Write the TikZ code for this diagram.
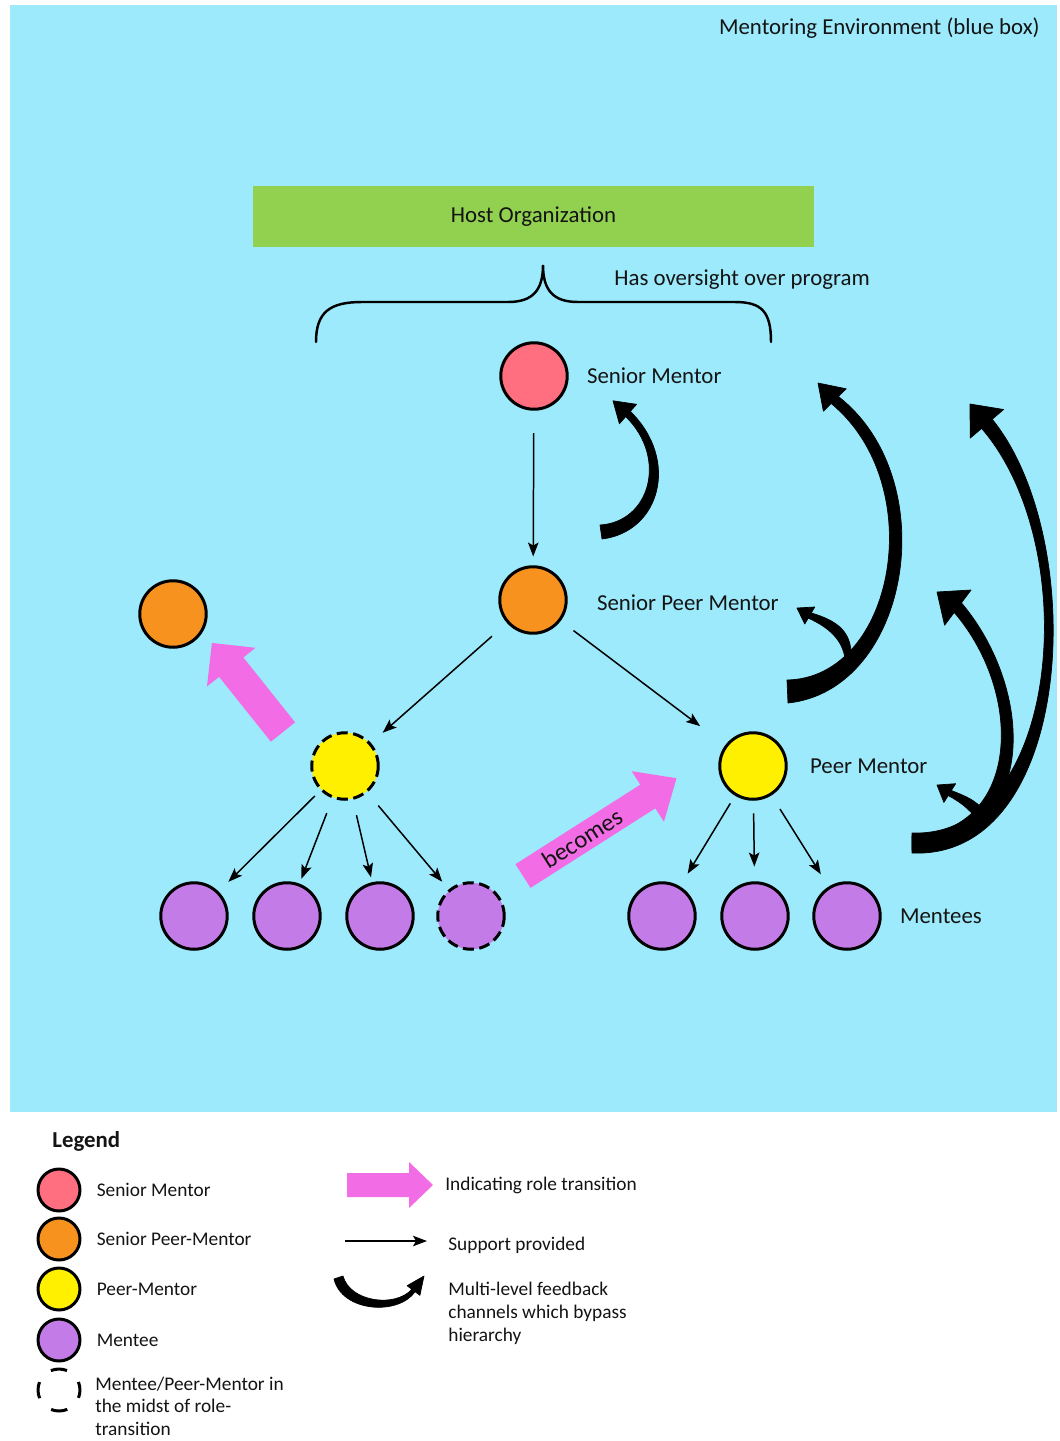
\documentclass[tikz,border=0pt]{standalone}
\usepackage{fontspec}
\setmainfont{Carlito}
\usepackage{tikz}
\usetikzlibrary{arrows.meta,positioning,calc}
\definecolor{envblue}{HTML}{9CEAFB}
\definecolor{hostgreen}{HTML}{92D050}
\definecolor{smpink}{HTML}{FF6F80}
\definecolor{spmorange}{HTML}{F7921E}
\definecolor{pmyellow}{HTML}{FFF000}
\definecolor{menteepurple}{HTML}{C37BE8}
\definecolor{rolepink}{HTML}{F26CE6}
\definecolor{txtdark}{HTML}{141414}
\tikzset{
  role/.style={circle, draw=black, line width=1.7pt, minimum size=1.33cm, inner sep=0pt},
  midst/.style={dash pattern=on 2.2mm off 1.1mm},
  support/.style={-{Stealth[length=2.8mm,width=2.1mm,inset=0.6mm]}, line width=0.85pt},
  feedback/.style={fill=black, draw=black, line width=0.4pt, line join=round},
  lbl/.style={font=\fontsize{13}{15}\selectfont, text=txtdark, inner sep=0pt},
  legtxt/.style={font=\fontsize{11}{13.1}\selectfont, text=txtdark, inner sep=0pt, align=left},
  legrole/.style={circle, draw=black, line width=1.7pt, minimum size=0.84cm, inner sep=0pt},
}

\begin{document}
\begin{tikzpicture}[x=0.02cm,y=-0.02cm]
  % page and environment box
  \fill[white] (0,0) rectangle (1060,1441);
  \useasboundingbox (0,0) rectangle (1060,1441);
  \fill[envblue] (10,5) rectangle (1057,1112);
  \node[lbl, anchor=east] (envtitle) at (1040,28) {Mentoring Environment (blue box)};

  % host organization
  \node[lbl, fill=hostgreen, minimum width=11.22cm, minimum height=1.22cm] (host) at (533.5,216.5) {Host Organization};
  \draw[line width=1.4pt, line cap=round] (316,342) .. controls (316,312) and (330,302) .. (362,302) -- (508,302)
    .. controls (533,302) and (543,290) .. (543,265) .. controls (543,290) and (553,302) .. (578,302) -- (735,302)
    .. controls (762,302) and (771,312) .. (771,342);
  \node[lbl, anchor=west] (oversight) at (614,280) {Has oversight over program};

  % roles
  \node[role, fill=smpink] (sm) at (534,376) {};
  \node[role, fill=spmorange] (spm) at (533,600) {};
  \node[role, fill=spmorange] (spmnew) at (173,614) {};
  \node[role, midst, fill=pmyellow] (pmmid) at (345,766) {};
  \node[role, fill=pmyellow] (pm) at (753,766) {};
  \node[role, fill=menteepurple] (m1) at (194,916) {};
  \node[role, fill=menteepurple] (m2) at (287,916) {};
  \node[role, fill=menteepurple] (m3) at (380,916) {};
  \node[role, midst, fill=menteepurple] (m4) at (471,916) {};
  \node[role, fill=menteepurple] (n1) at (662,916) {};
  \node[role, fill=menteepurple] (n2) at (755,916) {};
  \node[role, fill=menteepurple] (n3) at (847,916) {};

  \node[lbl, right=0.36cm of sm] (smlbl) {Senior Mentor};
  \node[lbl, right=0.58cm of spm, yshift=-0.06cm] (spmlbl) {Senior Peer Mentor};
  \node[lbl, right=0.44cm of pm] (pmlbl) {Peer Mentor};
  \node[lbl, right=0.36cm of n3] (menteeslbl) {Mentees};

  % support provided
  \draw[support, shorten <=4.5mm, shorten >=1.75mm] (sm) -- (spm);
  \draw[support, shorten <=4mm, shorten >=3.1mm] (spm) -- (pmmid);
  \draw[support, shorten <=3.2mm, shorten >=6.3mm] (spm) -- (pm);
  \draw[support, shorten <=1.55mm, shorten >=2.75mm] (pmmid) -- (m1);
  \draw[support, shorten <=3.15mm, shorten >=1.05mm] (pmmid) -- (m2);
  \draw[support, shorten <=3.15mm, shorten >=1mm] (pmmid) -- (m3);
  \draw[support, shorten <=3.4mm, shorten >=2mm] (pmmid) -- (m4);
  \draw[support, shorten <=1.8mm, shorten >=2.95mm] (pm) -- (n1);
  \draw[support, shorten <=2.55mm, shorten >=2.95mm] (pm) -- (n2);
  \draw[support, shorten <=3.2mm, shorten >=2.9mm] (pm) -- (n3);

  % role transitions
  \begin{scope}[shift={(523,876)}, rotate=32.5]
    \fill[rolepink] (0,-14) -- (148,-14) -- (148,-30) -- (182,0) -- (148,30) -- (148,14) -- (0,14) -- cycle;
    \node[lbl, font=\fontsize{14}{16}\selectfont, rotate=32.5] (becomes) at (70,0) {becomes};
  \end{scope}
  \begin{scope}[shift={(283,732)}, rotate=128.6]
    \fill[rolepink] (0,-15.5) -- (83,-15.5) -- (83,-31) -- (114,0) -- (83,31) -- (83,15.5) -- (0,15.5) -- cycle;
  \end{scope}

  % feedback channels
  \fill[feedback] (600,525) -- (602,539) .. controls (660,532) and (680,460) .. (630.3,411.4) -- (636.6,404.3)
    -- (613,400.8) -- (619.4,423.8) -- (625.7,416.6) .. controls (668,458) and (650,522) .. (600,525) -- cycle;
  \fill[feedback] (787,680) -- (788,703) .. controls (910,690) and (945,480) .. (838.4,396.5) -- (846.2,388.8)
    -- (818,383) -- (823.4,411.2) -- (831.2,403.5) .. controls (930,485) and (895,678) .. (787,680) -- cycle;
  \fill[feedback] (845,658) -- (851,652) .. controls (850,630) and (835,620) .. (811.25,612.95) -- (814.75,607)
    -- (797,608) -- (804.75,624) -- (808.25,618.05) .. controls (830,628) and (842,640) .. (845,658) -- cycle;
  \fill[feedback] (912,833) -- (912,853) .. controls (1075,860) and (1090,540) .. (992.2,419.2) -- (1003.6,409.5)
    -- (970,404) -- (970.2,438.1) -- (981.6,428.4) .. controls (1085,548) and (1060,838) .. (912,833) -- cycle;
  \fill[feedback] (912,836) -- (912,850) .. controls (1040,840) and (1035,690) .. (961.4,602.8) -- (971,590)
    -- (937,592) -- (944.6,625.2) -- (954.2,612.4) .. controls (1025,695) and (1020,832) .. (912,836) -- cycle;
  \fill[feedback] (980,826) -- (988,818) .. controls (982,803) and (968,797) .. (951.3,790.5) -- (955.6,783.7)
    -- (937,785) -- (943.9,802.4) -- (948.2,795.5) .. controls (962,803) and (974,812) .. (980,826) -- cycle;

  % legend
  \node[lbl, font=\fontsize{13}{15}\selectfont\bfseries, anchor=west] (legend) at (52,1141) {Legend};
  \node[legrole, fill=smpink] (lsm) at (59,1190) {};
  \node[legrole, fill=spmorange] (lspm) at (59,1239) {};
  \node[legrole, fill=pmyellow] (lpm) at (59,1289) {};
  \node[legrole, fill=menteepurple] (lmentee) at (59,1340) {};
  \node[legrole, dash pattern=on 3.3mm off 3.3mm, dash phase=1.65mm] (lmidst) at (59,1390) {};
  \node[legtxt, right=0.3cm of lsm] (lsmtxt) {Senior Mentor};
  \node[legtxt, right=0.3cm of lspm] (lspmtxt) {Senior Peer-Mentor};
  \node[legtxt, right=0.3cm of lpm] (lpmtxt) {Peer-Mentor};
  \node[legtxt, right=0.3cm of lmentee] (lmenteetxt) {Mentee};
  \node[legtxt, font=\fontsize{11}{12.8}\selectfont, anchor=west] (lmidsttxt) at (95,1406) {Mentee/Peer-Mentor in\\the midst of role-\\transition};

  \fill[rolepink] (347,1173) -- (409,1173) -- (409,1162) -- (433,1185) -- (409,1208) -- (409,1197) -- (347,1197) -- cycle;
  \node[legtxt, anchor=west] (ltranstxt) at (445,1185) {Indicating role transition};
  \coordinate (supA) at (345,1241);
  \coordinate (supB) at (427,1241);
  \draw[support] (supA) -- (supB);
  \node[legtxt, anchor=west] (lsuptxt) at (448,1245) {Support provided};
  \fill[feedback] (343,1276) -- (334,1279) .. controls (342,1312) and (398,1316) .. (415.1,1291.7) -- (419.9,1295.3)
    -- (424,1276) -- (407.1,1285.7) -- (411.9,1289.3) .. controls (395,1308) and (350,1302) .. (343,1276) -- cycle;
  \node[legtxt, anchor=west] (lfeedtxt) at (448,1313) {Multi-level feedback\\channels which bypass\\hierarchy};
\end{tikzpicture}
\end{document}
